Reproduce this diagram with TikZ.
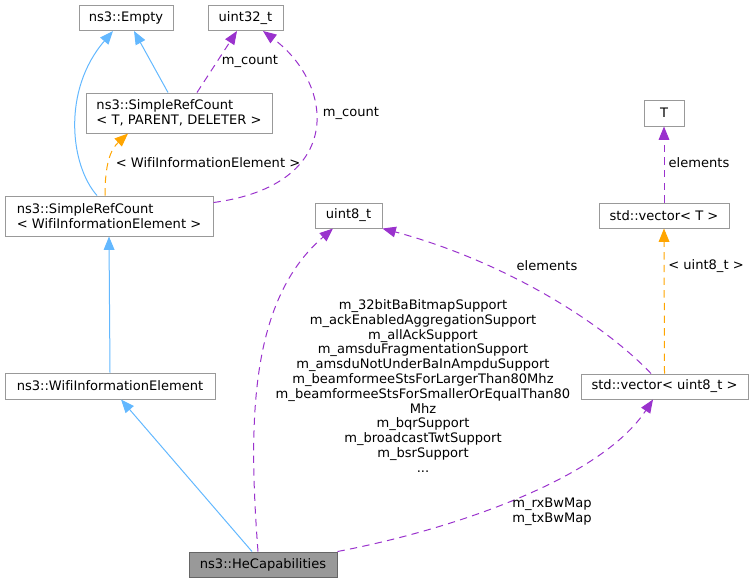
\documentclass[tikz,border=0pt]{standalone}
\usepackage{fontspec}
\setmainfont{DejaVu Sans}[Ligatures=NoCommon]
\usepackage{tikz}
\usetikzlibrary{arrows.meta,calc}
\definecolor{inhblue}{HTML}{63B8FF}
\definecolor{usepurple}{HTML}{9A32CD}
\definecolor{tplorange}{HTML}{FFA500}
\definecolor{boxgray}{HTML}{999999}
\definecolor{heborder}{HTML}{666666}

\begin{document}
\begin{tikzpicture}[x=0.75pt,y=-0.75pt,
  box/.style={draw=boxgray, fill=white, line width=0.75pt, inner sep=0pt, align=left,
    font=\fontsize{9.8}{11.1}\selectfont, minimum height=18.75pt},
  lbl/.style={inner sep=0pt, align=center, font=\fontsize{9.8}{11.1}\selectfont},
  tip/.style={-{Triangle[length=10pt,width=8pt,fill=#1]}},
  inh/.style={tip=inhblue, draw=inhblue, line width=0.75pt},
  usage/.style={tip=usepurple, draw=usepurple, line width=0.75pt, dash pattern=on 5.5pt off 4pt},
  tmpl/.style={tip=tplorange, draw=tplorange, line width=0.75pt, dash pattern=on 5.5pt off 4pt}]
\useasboundingbox (0,0) rectangle (753,583);
% classes
\node[box, minimum width=70.5pt] (empty) at (126,18) {ns3::Empty};
\node[box, minimum width=56.25pt] (uintxx) at (245.5,18) {uint32\_t};
\node[box, minimum width=139.5pt, minimum height=30pt] (srcT) at (179,113) {ns3::SimpleRefCount\\< T, PARENT, DELETER >};
\node[box, minimum width=156pt, minimum height=30pt] (srcW) at (109,216) {ns3::SimpleRefCount\\< WifiInformationElement >};
\node[box, minimum width=50.25pt] (uinteight) at (348.5,215.5) {uint8\_t};
\node[box, minimum width=30pt, minimum height=19.5pt] (tT) at (664,113) {T};
\node[box, minimum width=97.5pt] (vecT) at (664,215.5) {std::vector< T >};
\node[box, minimum width=125.25pt] (vecU) at (664.5,386.5) {std::vector< uint8\_t >};
\node[box, minimum width=157.5pt, minimum height=19.5pt] (wie) at (110,386) {ns3::WifiInformationElement};
\node[box, draw=heborder, fill=boxgray, minimum width=111pt] (he) at (263,564.5) {ns3::HeCapabilities};
% inheritance
\draw[inh] ($(srcW.north)+(-12,0)$) .. controls (70,165) and (62,90) .. ($(empty.south)+(-13,0)$);
\draw[inh] ($(srcT.north)+(-11,0)$) -- ($(empty.south)+(8,0)$);
\draw[inh] (wie.north) -- (srcW.south);
\draw[inh] ($(he.north)+(-11,0)$) -- ($(wie.south)+(11,0)$);
% members
\draw[usage] ($(srcT.north)+(18,0)$) -- ($(uintxx.south)+(-8.5,0)$);
\node[lbl] (lcountT) at (250,61) {m\_count};
\draw[usage] ($(srcW.north east)+(0,7)$) .. controls (345,185) and (335,85) .. ($(uintxx.south)+(17.5,0)$);
\node[lbl] (lcountW) at (351,113) {m\_count};
\draw[tmpl] ($(srcW.north)+(-4,0)$) .. controls (105,165) and (110,150) .. ($(srcT.south)+(-51,0)$);
\node[lbl] (lwie) at (208,163) {< WifiInformationElement >};
\draw[usage] ($(he.north)+(-5,0)$) .. controls (248,420) and (250,300) .. ($(uinteight.south)+(-15.5,0)$);
\node[lbl] (lfields) at (423,386) {m\_32bitBaBitmapSupport\\m\_ackEnabledAggregationSupport\\m\_allAckSupport\\m\_amsduFragmentationSupport\\m\_amsduNotUnderBaInAmpduSupport\\m\_beamformeeStsForLargerThan80Mhz\\m\_beamformeeStsForSmallerOrEqualThan80\\Mhz\\m\_bqrSupport\\m\_broadcastTwtSupport\\m\_bsrSupport\\...};
\draw[usage] ($(vecU.north)+(-13.5,0)$) .. controls (600,320) and (500,260) .. (uinteight.south east);
\node[lbl] (lelemU) at (547,266) {elements};
\draw[tmpl] (vecU.north) -- (vecT.south);
\node[lbl] (luint) at (706,266) {< uint8\_t >};
\draw[usage] (vecT.north) -- (tT.south);
\node[lbl] (lelemT) at (699,163) {elements};
\draw[usage] (he.north east) .. controls (450,530) and (600,480) .. ($(vecU.south)+(-11.5,0)$);
\node[lbl] (lbw) at (552,512) {m\_rxBwMap\\m\_txBwMap};
\end{tikzpicture}
\end{document}
